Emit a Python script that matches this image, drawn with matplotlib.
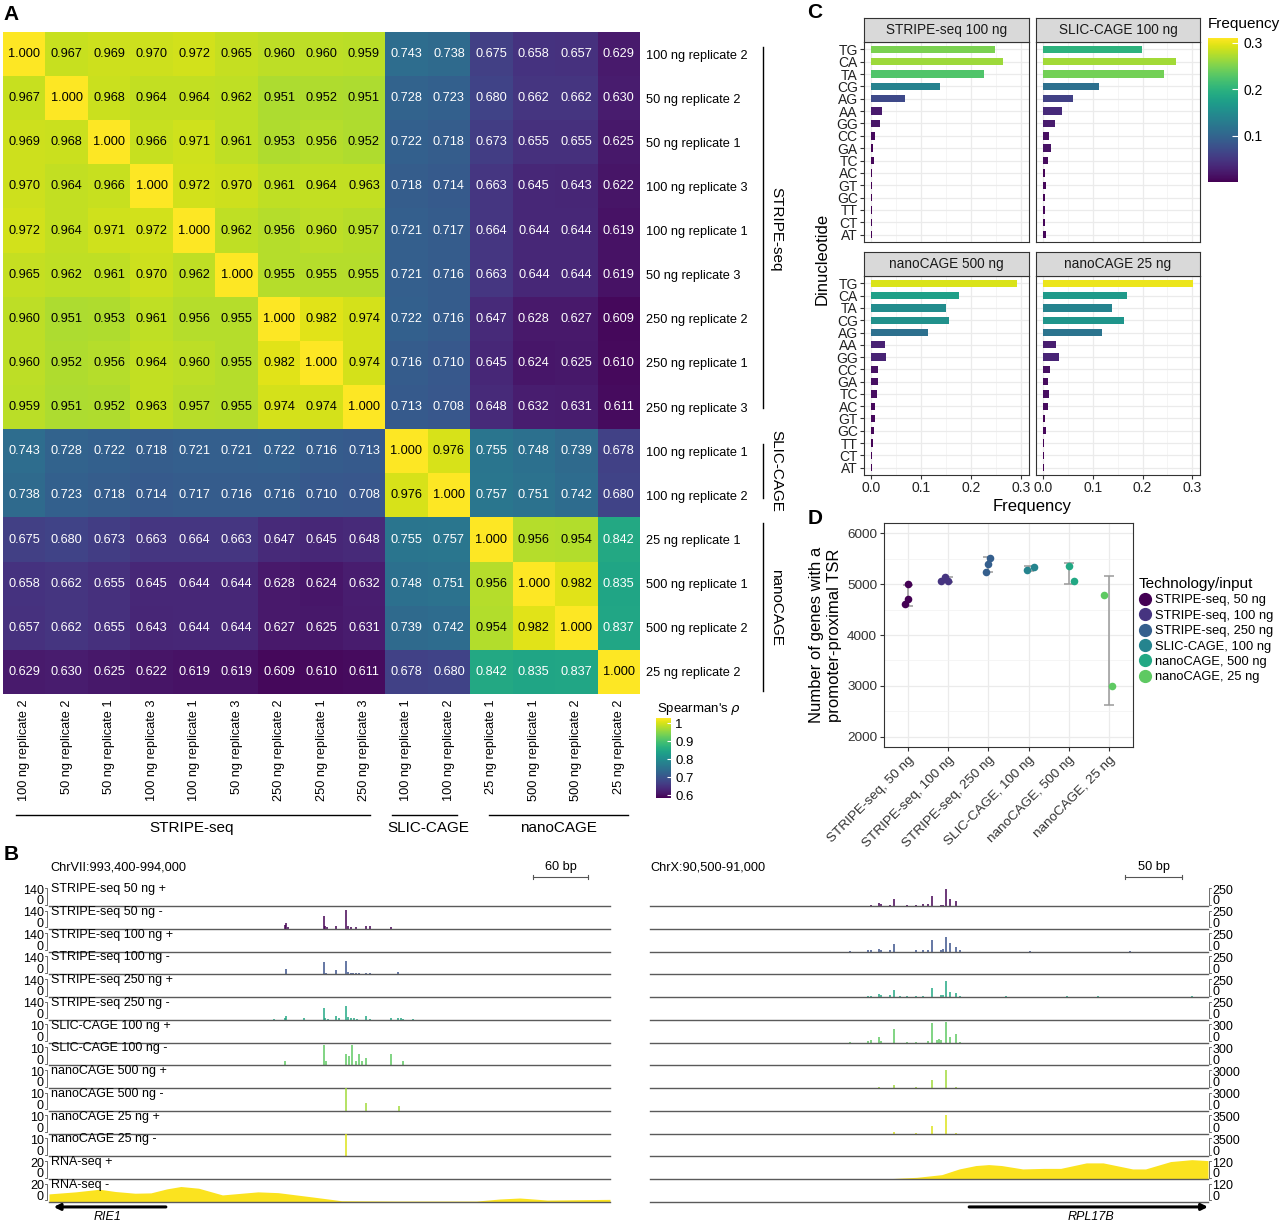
import numpy as np
import matplotlib
matplotlib.use("Agg")
from matplotlib import pyplot as plt
from matplotlib.colors import Normalize
from matplotlib.cm import ScalarMappable
from matplotlib.lines import Line2D

plt.rcParams['font.family'] = ['Liberation Sans', 'DejaVu Sans']

W, H = 1280, 1221

# ---------------- panel A: Spearman correlation of samples
sample_labels = ['100 ng replicate 2', '50 ng replicate 2', '50 ng replicate 1',
                 '100 ng replicate 3', '100 ng replicate 1', '50 ng replicate 3',
                 '250 ng replicate 2', '250 ng replicate 1', '250 ng replicate 3',
                 '100 ng replicate 1', '100 ng replicate 2',
                 '25 ng replicate 1', '500 ng replicate 1', '500 ng replicate 2',
                 '25 ng replicate 2']
group_names = ['STRIPE-seq', 'SLIC-CAGE', 'nanoCAGE']
rho = np.array([
    [1.000, 0.967, 0.969, 0.970, 0.972, 0.965, 0.960, 0.960, 0.959, 0.743, 0.738, 0.675, 0.658, 0.657, 0.629],
    [0.967, 1.000, 0.968, 0.964, 0.964, 0.962, 0.951, 0.952, 0.951, 0.728, 0.723, 0.680, 0.662, 0.662, 0.630],
    [0.969, 0.968, 1.000, 0.966, 0.971, 0.961, 0.953, 0.956, 0.952, 0.722, 0.718, 0.673, 0.655, 0.655, 0.625],
    [0.970, 0.964, 0.966, 1.000, 0.972, 0.970, 0.961, 0.964, 0.963, 0.718, 0.714, 0.663, 0.645, 0.643, 0.622],
    [0.972, 0.964, 0.971, 0.972, 1.000, 0.962, 0.956, 0.960, 0.957, 0.721, 0.717, 0.664, 0.644, 0.644, 0.619],
    [0.965, 0.962, 0.961, 0.970, 0.962, 1.000, 0.955, 0.955, 0.955, 0.721, 0.716, 0.663, 0.644, 0.644, 0.619],
    [0.960, 0.951, 0.953, 0.961, 0.956, 0.955, 1.000, 0.982, 0.974, 0.722, 0.716, 0.647, 0.628, 0.627, 0.609],
    [0.960, 0.952, 0.956, 0.964, 0.960, 0.955, 0.982, 1.000, 0.974, 0.716, 0.710, 0.645, 0.624, 0.625, 0.610],
    [0.959, 0.951, 0.952, 0.963, 0.957, 0.955, 0.974, 0.974, 1.000, 0.713, 0.708, 0.648, 0.632, 0.631, 0.611],
    [0.743, 0.728, 0.722, 0.718, 0.721, 0.721, 0.722, 0.716, 0.713, 1.000, 0.976, 0.755, 0.748, 0.739, 0.678],
    [0.738, 0.723, 0.718, 0.714, 0.717, 0.716, 0.716, 0.710, 0.708, 0.976, 1.000, 0.757, 0.751, 0.742, 0.680],
    [0.675, 0.680, 0.673, 0.663, 0.664, 0.663, 0.647, 0.645, 0.648, 0.755, 0.757, 1.000, 0.956, 0.954, 0.842],
    [0.658, 0.662, 0.655, 0.645, 0.644, 0.644, 0.628, 0.624, 0.632, 0.748, 0.751, 0.956, 1.000, 0.982, 0.835],
    [0.657, 0.662, 0.655, 0.643, 0.644, 0.644, 0.627, 0.625, 0.631, 0.739, 0.742, 0.954, 0.982, 1.000, 0.837],
    [0.629, 0.630, 0.625, 0.622, 0.619, 0.619, 0.609, 0.610, 0.611, 0.678, 0.680, 0.842, 0.835, 0.837, 1.000]])

# ---------------- panel C: dinucleotide frequencies
dinucs = ['TG', 'CA', 'TA', 'CG', 'AG', 'AA', 'GG', 'CC', 'GA', 'TC', 'AC', 'GT', 'GC', 'TT', 'CT', 'AT']
facet_names = ['STRIPE-seq 100 ng', 'SLIC-CAGE 100 ng', 'nanoCAGE 500 ng', 'nanoCAGE 25 ng']
freq_stripe100 = [0.248, 0.264, 0.225, 0.138, 0.068, 0.021, 0.017, 0.008, 0.003, 0.005, 0.001, 0.001, 0.001, 0.002, 0.002, 0.001]
freq_slic100 = [0.199, 0.267, 0.244, 0.113, 0.060, 0.037, 0.023, 0.011, 0.015, 0.009, 0.003, 0.006, 0.003, 0.004, 0.004, 0.005]
freq_nano500 = [0.292, 0.175, 0.150, 0.156, 0.113, 0.028, 0.030, 0.014, 0.013, 0.011, 0.007, 0.007, 0.005, 0.003, 0.002, 0.002]
freq_nano25 = [0.301, 0.168, 0.139, 0.162, 0.119, 0.025, 0.031, 0.013, 0.009, 0.012, 0.009, 0.003, 0.005, 0.002, 0.001, 0.001]

# ---------------- panel D: genes with promoter-proximal TSR
tech_labels = ['STRIPE-seq, 50 ng', 'STRIPE-seq, 100 ng', 'STRIPE-seq, 250 ng',
               'SLIC-CAGE, 100 ng', 'nanoCAGE, 500 ng', 'nanoCAGE, 25 ng']
genes_stripe50 = [4606, 4704, 4998]
genes_stripe100 = [5064, 5142, 5064]
genes_stripe250 = [5241, 5398, 5516]
genes_slic100 = [5273, 5345]
genes_nano500 = [5352, 5070]
genes_nano25 = [4789, 2995]
jitter_stripe50 = [-0.08, 0.0, 0.0]
jitter_stripe100 = [-0.17, -0.08, 0.0]
jitter_stripe250 = [-0.07, -0.02, 0.03]
jitter_slic100 = [-0.04, 0.14]
jitter_nano500 = [0.0, 0.12]
jitter_nano25 = [-0.12, 0.07]

# ---------------- panel B: genome browser tracks
track_labels = ['STRIPE-seq 50 ng +', 'STRIPE-seq 50 ng -', 'STRIPE-seq 100 ng +', 'STRIPE-seq 100 ng -',
                'STRIPE-seq 250 ng +', 'STRIPE-seq 250 ng -', 'SLIC-CAGE 100 ng +', 'SLIC-CAGE 100 ng -',
                'nanoCAGE 500 ng +', 'nanoCAGE 500 ng -', 'nanoCAGE 25 ng +', 'nanoCAGE 25 ng -',
                'RNA-seq +', 'RNA-seq -']
chr7_max = [140, 140, 140, 140, 140, 140, 10, 10, 10, 10, 10, 10, 20, 20]
chrx_max = [250, 250, 250, 250, 250, 250, 300, 300, 3000, 3000, 3500, 3500, 120, 120]
track_colors = ['#440154', '#440154', '#3b528b', '#3b528b', '#22a884', '#22a884',
                '#5ec962', '#5ec962', '#a0da39', '#a0da39', '#dde318', '#dde318',
                '#fbe31f', '#fbe31f']

# ChrVII:993,400-994,000 (offsets in bp), minus strand
chr7_s50m_pos = [252.5, 254, 255.5, 294, 295.5, 297.5, 307, 318, 319.5, 322.5, 328, 339, 343.5, 366]
chr7_s50m_val = [23, 33, 12, 78, 16, 10, 14, 115, 14, 10, 12, 16, 14, 10]
chr7_s100m_pos = [254, 294, 296.5, 307, 318, 319.5, 322.5, 325.5, 328, 332, 339, 343.5, 373.5]
chr7_s100m_val = [35, 78, 8, 29, 84, 12, 10, 8, 8, 6, 8, 8, 16]
chr7_s250m_pos = [241, 252.5, 254, 273, 294, 295.5, 298.5, 307, 310, 318, 319.5, 323, 326, 329.5,
                  339, 343.5, 366, 373.5, 376.5, 378.5, 389]
chr7_s250m_val = [4, 12, 21, 8, 72, 8, 6, 21, 12, 84, 16, 12, 12, 6, 21, 6, 12, 12, 8, 6, 4]
chr7_slicm_pos = [252.5, 294, 296, 318, 320.5, 324.5, 328, 331.5, 335, 339, 365.5, 379]
chr7_slicm_val = [2, 9, 2, 5, 4, 9, 2, 5, 2, 3, 5, 2]
chr7_n500m_pos = [318, 339, 374]
chr7_n500m_val = [10, 3.5, 2.2]
chr7_n25m_pos = [318]
chr7_n25m_val = [10]
chr7_rna_pos = [0, 28.5, 54, 71, 92, 109, 126, 141, 160, 185.5, 206.5, 223.5, 245, 279, 313, 372, 457, 482, 503.5, 533, 600]
chr7_rna_val = [6.9, 8.7, 11, 9, 7.5, 7.8, 11.3, 13.4, 11.9, 6, 7.5, 8.7, 8, 4.5, 0.9, 0.6, 0.6, 2.4, 3.3, 1.5, 2.1]

# ChrX:90,500-91,000 (offsets in bp), plus strand
chrx_s50p_pos = [198, 205.5, 207, 215, 219, 230, 238, 244.5, 249, 252.5, 261, 262.5, 265.5, 269, 274]
chrx_s50p_val = [11, 29, 18, 11, 74, 11, 11, 18, 18, 110, 11, 11, 184, 81, 55]
chrx_s100p_pos = [179, 195.5, 198, 205.5, 207, 215, 219, 238, 244.5, 249, 252.5, 261, 262.5, 265.5,
                  269, 274, 278, 340.5, 430]
chrx_s100p_val = [7, 11, 11, 22, 18, 11, 81, 18, 18, 18, 121, 18, 29, 158, 92, 44, 11, 7, 7]
chrx_s250p_pos = [195.5, 198, 205.5, 207, 215, 219, 224, 230, 238, 244.5, 252.5, 261, 262.5, 265.5,
                  269, 274, 278, 319, 374, 401, 485.5]
chrx_s250p_val = [11, 15, 37, 26, 18, 81, 7, 7, 7, 11, 103, 18, 18, 177, 55, 44, 11, 7, 7, 7, 7]
chrx_slicp_pos = [179, 195.5, 198, 205.5, 207, 219, 230, 238, 249, 252.5, 257, 259, 261, 265.5, 269, 274, 278]
chrx_slicp_val = [9, 22, 35, 66, 22, 172, 9, 9, 22, 260, 35, 44, 35, 269, 66, 110, 13]
chrx_n500p_pos = [205.5, 219, 238, 252.5, 265.5, 274]
chrx_n500p_val = [88, 441, 88, 1058, 2426, 132]
chrx_n25p_pos = [219, 238, 252.5, 265.5, 274]
chrx_n25p_val = [154, 103, 1132, 2831, 103]
chrx_rna_pos = [208.5, 239, 261.5, 277, 292, 303.5, 315, 334, 353, 368, 391, 406, 432.5, 444, 466.5, 485.5, 500]
chrx_rna_val = [0, 8.8, 23, 53, 71, 76, 71, 53, 56, 56, 85, 85, 53, 53, 92, 102, 97]

rie1_span = (0, 125)
rpl17b_span = (286, 500)

# ---------------------------------------------------------------
fig = plt.figure(figsize=(W / 100, H / 100), dpi=100)


def add_ax(x0, y0, x1, y1):
    # rectangle given in pixels, origin top-left
    return fig.add_axes([x0 / W, 1 - y1 / H, (x1 - x0) / W, (y1 - y0) / H])


viridis = plt.get_cmap('viridis')

# ---------------- A
axA = add_ax(3, 32, 640, 694)
im = axA.imshow(rho, cmap=viridis, vmin=0.6, vmax=1.0, aspect='auto', interpolation='nearest')
for i in range(rho.shape[0]):
    for j in range(rho.shape[1]):
        axA.text(j, i, '%.3f' % rho[i, j], ha='center', va='center', fontsize=9.2,
                 color='black' if rho[i, j] > 0.9 else 'white')
axA.yaxis.tick_right()
axA.set_yticks(range(15))
axA.set_yticklabels(sample_labels, fontsize=9.2)
axA.set_xticks(range(15))
axA.set_xticklabels(sample_labels, fontsize=9.2, rotation=90)
axA.tick_params(length=0, pad=4)
for s in axA.spines.values():
    s.set_visible(False)

# colorbar drawn a little past 0.6 and 1 so the end labels sit inside, as in ggplot
caxA = add_ax(656, 718, 671, 798)
cb = fig.colorbar(ScalarMappable(Normalize(0.585, 1.03), viridis), cax=caxA,
                  ticks=[0.6, 0.7, 0.8, 0.9, 1.0])
cb.ax.set_yticklabels(['0.6', '0.7', '0.8', '0.9', '1'])
cb.outline.set_visible(False)
cb.ax.tick_params(length=3, direction='in', color='white', labelsize=9.5, pad=3)

# ---------------- C
facet_vals = [freq_stripe100, freq_slic100, freq_nano500, freq_nano25]
panel_rects = [(864, 42, 1029, 242), (1036, 42, 1200, 242), (864, 276, 1029, 475), (1036, 276, 1200, 475)]
normC = Normalize(0, 0.31)
for k, (name, vals) in enumerate(zip(facet_names, facet_vals)):
    x0, y0, x1, y1 = panel_rects[k]
    ax = add_ax(x0, y0, x1, y1)
    vals = np.array(vals)
    ax.barh(np.arange(len(dinucs)), vals, height=0.6, color=viridis(normC(vals)), zorder=3)
    ax.set_ylim(len(dinucs) - 0.4, -0.6)
    ax.set_xlim(-0.015, 0.316)
    ax.set_yticks(range(len(dinucs)))
    ax.set_xticks([0, 0.1, 0.2, 0.3])
    ax.set_xticks([0.05, 0.15, 0.25], minor=True)
    ax.grid(True, which='major', color='#EBEBEB', lw=0.9, zorder=0)
    ax.grid(True, which='minor', axis='x', color='#F2F2F2', lw=0.5, zorder=0)
    ax.tick_params(which='minor', length=0)
    ax.tick_params(which='major', length=3, color='#333333', labelcolor='#222222', labelsize=10, pad=1.5)
    if k % 2 == 0:
        ax.set_yticklabels(dinucs)
    else:
        ax.set_yticklabels([])
        ax.tick_params(axis='y', left=False)
    if k >= 2:
        ax.set_xticklabels(['0.0', '0.1', '0.2', '0.3'])
    else:
        ax.set_xticklabels([])
        ax.tick_params(axis='x', bottom=False)
    for s in ax.spines.values():
        s.set_color('#333333')
        s.set_linewidth(0.8)
    sax = add_ax(x0, y0 - 24, x1, y0)
    sax.set_facecolor('#D9D9D9')
    sax.set_xticks([])
    sax.set_yticks([])
    for s in sax.spines.values():
        s.set_color('#333333')
        s.set_linewidth(0.8)
    sax.text(0.5, 0.5, name, transform=sax.transAxes, ha='center', va='center', fontsize=9.8, color='#1A1A1A')

caxC = add_ax(1208, 38, 1238, 182)
cbC = fig.colorbar(ScalarMappable(normC, viridis), cax=caxC, ticks=[0.1, 0.2, 0.3])
cbC.ax.set_yticklabels(['0.1', '0.2', '0.3'])
cbC.outline.set_visible(False)
cbC.ax.tick_params(length=4, direction='in', color='white', labelsize=10, pad=4)

# ---------------- D
axD = add_ax(884, 523, 1133, 747)
d_groups = [genes_stripe50, genes_stripe100, genes_stripe250, genes_slic100, genes_nano500, genes_nano25]
d_jitter = [jitter_stripe50, jitter_stripe100, jitter_stripe250, jitter_slic100, jitter_nano500, jitter_nano25]
d_colors = [viridis(v) for v in np.linspace(0, 0.75, 6)]
for i, (vals, jit) in enumerate(zip(d_groups, d_jitter)):
    vals = np.array(vals, dtype=float)
    axD.errorbar(i + 1, vals.mean(), yerr=vals.std(ddof=1), fmt='none', ecolor='#9A9A9A',
                 elinewidth=1.1, capsize=3.8, capthick=1.1, zorder=2)
    axD.scatter(i + 1 + np.array(jit), vals, s=30, color=d_colors[i], linewidths=0, zorder=3)
axD.set_xlim(0.4, 6.6)
axD.set_ylim(1800, 6200)
axD.set_yticks([2000, 3000, 4000, 5000, 6000])
axD.set_yticks([2500, 3500, 4500, 5500], minor=True)
axD.set_xticks(range(1, 7))
axD.set_xticklabels(tech_labels, rotation=45, ha='right', rotation_mode='anchor')
axD.grid(True, which='major', color='#EBEBEB', lw=0.9)
axD.grid(True, which='minor', axis='y', color='#F2F2F2', lw=0.5)
axD.set_axisbelow(True)
axD.tick_params(which='minor', length=0)
axD.tick_params(which='major', length=3, color='#333333', labelcolor='#333333', labelsize=9.7, pad=2)
for s in axD.spines.values():
    s.set_color('#333333')
    s.set_linewidth(0.8)
handles = [Line2D([], [], marker='o', ls='', color=c, markersize=8.5) for c in d_colors]
axD.legend(handles, tech_labels, title='Technology/input', loc='upper left',
           bbox_to_anchor=(1139 / W, 1 - 577 / H), bbox_transform=fig.transFigure,
           frameon=False, fontsize=9.3, title_fontsize=11, handletextpad=0.25,
           labelspacing=0.26, borderaxespad=0, borderpad=0, handlelength=1.0, alignment='left')

# ---------------- B
chr7_sig = {1: (chr7_s50m_pos, chr7_s50m_val), 3: (chr7_s100m_pos, chr7_s100m_val),
            5: (chr7_s250m_pos, chr7_s250m_val), 7: (chr7_slicm_pos, chr7_slicm_val),
            9: (chr7_n500m_pos, chr7_n500m_val), 11: (chr7_n25m_pos, chr7_n25m_val)}
chrx_sig = {0: (chrx_s50p_pos, chrx_s50p_val), 2: (chrx_s100p_pos, chrx_s100p_val),
            4: (chrx_s250p_pos, chrx_s250p_val), 6: (chrx_slicp_pos, chrx_slicp_val),
            8: (chrx_n500p_pos, chrx_n500p_val), 10: (chrx_n25p_pos, chrx_n25p_val)}
track_h = 22.75
for k in range(14):
    base = 906 + track_h * k
    axl = add_ax(49, base - track_h, 610, base)
    axr = add_ax(650, base - track_h, 1208, base)
    axl.set_xlim(0, 600)
    axr.set_xlim(0, 500)
    axl.set_ylim(0, chr7_max[k])
    axr.set_ylim(0, chrx_max[k])
    if k in chr7_sig:
        p, v = chr7_sig[k]
        axl.vlines(p, 0, v, color=track_colors[k], lw=1.1)
    if k in chrx_sig:
        p, v = chrx_sig[k]
        axr.vlines(p, 0, v, color=track_colors[k], lw=1.1)
    if k == 13:
        axl.fill_between(chr7_rna_pos, chr7_rna_val, color=track_colors[k], lw=0)
    if k == 12:
        axr.fill_between(chrx_rna_pos, chrx_rna_val, color=track_colors[k], lw=0)
    for ax in (axl, axr):
        ax.axis('off')
        ax.axhline(0, color='#5A5A5A', lw=1.0, clip_on=False)
    axl.text(0.004, 0.74, track_labels[k], transform=axl.transAxes, fontsize=9, va='center')
    axl.text(-0.009, 0.68, str(chr7_max[k]), transform=axl.transAxes, fontsize=9, va='center', ha='right')
    axl.text(-0.009, 0.2, '0', transform=axl.transAxes, fontsize=9, va='center', ha='right')
    axl.plot([-0.007, -0.003, -0.003, -0.007], [0.8, 0.8, 0.06, 0.06], transform=axl.transAxes,
             clip_on=False, color='#555555', lw=0.6)
    axr.text(1.008, 0.68, str(chrx_max[k]), transform=axr.transAxes, fontsize=9, va='center', ha='left')
    axr.text(1.008, 0.2, '0', transform=axr.transAxes, fontsize=9, va='center', ha='left')
    axr.plot([1.006, 1.002, 1.002, 1.006], [0.8, 0.8, 0.06, 0.06], transform=axr.transAxes,
             clip_on=False, color='#555555', lw=0.6)

gl = add_ax(49, 1202, 610, 1221)
gl.set_xlim(0, 600)
gl.set_ylim(0, 1)
gl.axis('off')
gl.annotate('', xy=(rie1_span[0] + 5, 0.74), xytext=(rie1_span[1], 0.74),
            arrowprops=dict(arrowstyle='-|>', lw=2.2, color='black', mutation_scale=9, shrinkA=0, shrinkB=0))
gl.text(np.mean(rie1_span), 0.22, 'RIE1', style='italic', fontsize=9, ha='center', va='center')
gr = add_ax(650, 1202, 1208, 1221)
gr.set_xlim(0, 500)
gr.set_ylim(0, 1)
gr.axis('off')
gr.annotate('', xy=(rpl17b_span[1], 0.74), xytext=(rpl17b_span[0], 0.74),
            arrowprops=dict(arrowstyle='-|>', lw=2.2, color='black', mutation_scale=9, shrinkA=0, shrinkB=0))
gr.text(395, 0.22, 'RPL17B', style='italic', fontsize=9, ha='center', va='center')

# ---------------- overlay in pixel coordinates
ov = fig.add_axes([0, 0, 1, 1])
ov.set_xlim(0, W)
ov.set_ylim(H, 0)
ov.axis('off')
ov.patch.set_alpha(0)

for lab, (x, y) in zip('ABCD', [(11, 15), (11, 855), (815, 13), (815, 518)]):
    ov.text(x, y, lab, fontsize=15, fontweight='bold', ha='center', va='center')

# A brackets
for (y0, y1), name, yc in zip([(47, 408), (444, 498), (523, 691)], group_names, [229, 471, 607]):
    ov.plot([763, 763], [y0, y1], color='black', lw=1)
    ov.text(776, yc, name, rotation=-90, fontsize=11, ha='center', va='center')
for (x0, x1), name, xc in zip([(16, 370), (392, 457), (489, 628)], group_names, [192, 428, 558]):
    ov.plot([x0, x1], [815, 815], color='black', lw=1)
    ov.text(xc, 828, name, fontsize=11, ha='center', va='center')
ov.text(657, 709, "Spearman's $\\rho$", fontsize=9.5, va='center', ha='left')

# C labels
ov.text(1208, 24, 'Frequency', fontsize=11, va='center', ha='left')
ov.text(1032, 506, 'Frequency', fontsize=12, va='center', ha='center')
ov.text(822, 259, 'Dinucleotide', fontsize=12, rotation=90, va='center', ha='center')

# D y label
ov.text(825, 635, 'Number of genes with a\npromoter-proximal TSR', fontsize=12, rotation=90,
        va='center', ha='center', linespacing=1.25)

# B titles and scale bars
ov.text(50, 867, 'ChrVII:993,400-994,000', fontsize=9.2, va='center')
ov.text(650, 867, 'ChrX:90,500-91,000', fontsize=9.2, va='center')
for (x0, x1), lab in zip([(533, 588), (1125, 1182)], ['60 bp', '50 bp']):
    ov.plot([x0, x1], [877, 877], color='#555555', lw=0.8)
    ov.plot([x0, x0], [875, 879], color='#555555', lw=0.8)
    ov.plot([x1, x1], [875, 879], color='#555555', lw=0.8)
    ov.text((x0 + x1) / 2, 867, lab, fontsize=9.2, ha='center', va='center')

plt.savefig('out.png', dpi=100)
